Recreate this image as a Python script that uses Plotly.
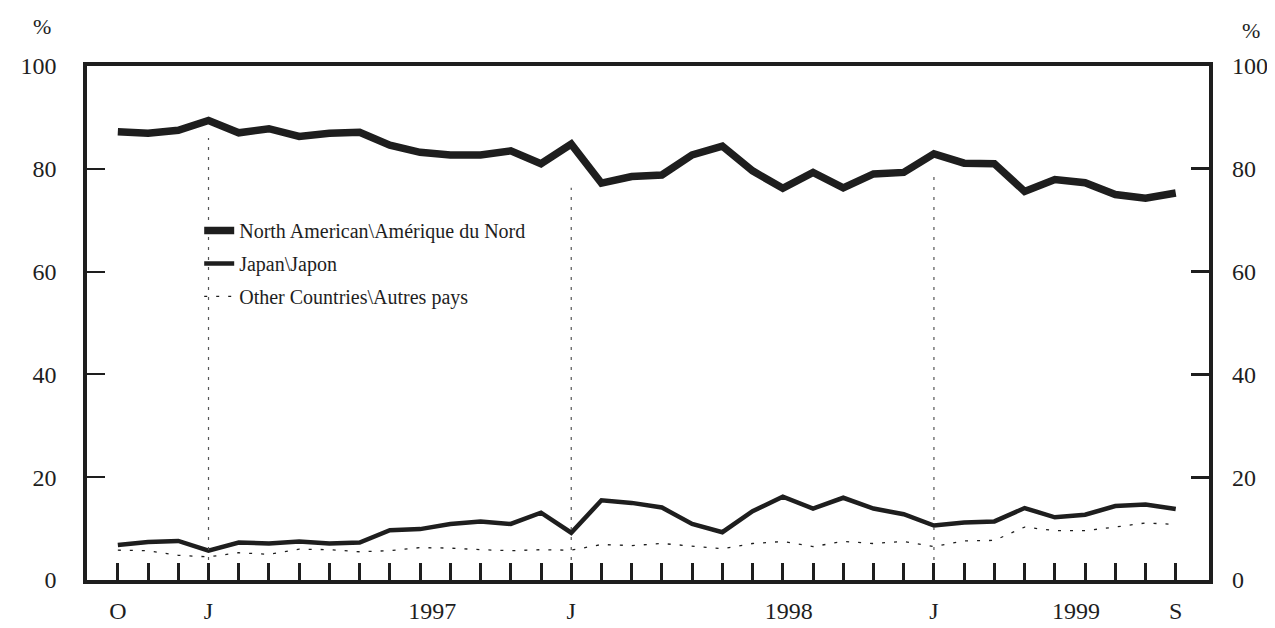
import plotly.graph_objects as go

# Months Oct 1996 .. Sep 1999 (index 0..35)
months = ["Oct 1996", "Nov 1996", "Dec 1996", "Jan 1997", "Feb 1997", "Mar 1997", "Apr 1997",
          "May 1997", "Jun 1997", "Jul 1997", "Aug 1997", "Sep 1997", "Oct 1997", "Nov 1997",
          "Dec 1997", "Jan 1998", "Feb 1998", "Mar 1998", "Apr 1998", "May 1998", "Jun 1998",
          "Jul 1998", "Aug 1998", "Sep 1998", "Oct 1998", "Nov 1998", "Dec 1998", "Jan 1999",
          "Feb 1999", "Mar 1999", "Apr 1999", "May 1999", "Jun 1999", "Jul 1999", "Aug 1999",
          "Sep 1999"]
month_index = list(range(len(months)))

north_america = [87.2, 86.9, 87.5, 89.4, 87.0, 87.8, 86.3, 86.9, 87.1, 84.6, 83.2, 82.7,
                 82.7, 83.5, 81.0, 84.8, 77.2, 78.5, 78.8, 82.7, 84.4, 79.6, 76.2, 79.3,
                 76.3, 79.0, 79.3, 82.9, 81.1, 81.0, 75.6, 77.9, 77.3, 75.0, 74.3, 75.3]
japan = [6.8, 7.4, 7.6, 5.7, 7.3, 7.1, 7.5, 7.1, 7.3, 9.7, 9.9, 10.9,
         11.4, 10.9, 13.1, 9.2, 15.5, 15.0, 14.1, 10.9, 9.3, 13.4, 16.2, 13.9,
         16.0, 13.9, 12.8, 10.6, 11.2, 11.4, 14.0, 12.2, 12.7, 14.4, 14.7, 13.8]
other = [5.8, 5.7, 4.8, 4.5, 5.3, 5.0, 6.0, 5.9, 5.5, 5.7, 6.3, 6.2,
         5.9, 5.7, 5.9, 5.8, 6.9, 6.7, 7.1, 6.6, 6.1, 7.1, 7.5, 6.5,
         7.5, 7.1, 7.5, 6.5, 7.6, 7.7, 10.3, 9.6, 9.6, 10.3, 11.1, 10.8]

series_names = ["North American\\Amérique du Nord", "Japan\\Japon", "Other Countries\\Autres pays"]

# x-axis labels
xtick_vals = [0, 3, 10.4, 15, 22.2, 27, 31.7, 35]
xtick_text = ["O", "J", "1997", "J", "1998", "J", "1999", "S"]
ytick_vals = [0, 20, 40, 60, 80, 100]

# January divider lines (month index, top value)
divider_months = [3, 15, 27]
divider_tops = [86.0, 76.3, 79.7]

INK = "#1e1e1e"
FONT = "Liberation Serif"

fig = go.Figure()

div_x, div_y = [], []
for m, t in zip(divider_months, divider_tops):
    div_x += [m, m, None]
    div_y += [0, t, None]
fig.add_trace(go.Scatter(x=div_x, y=div_y, mode="lines", xaxis="x2", yaxis="y2",
                         line=dict(color="#555555", width=1.2, dash="3px,7px"),
                         showlegend=False, hoverinfo="skip"))

fig.add_trace(go.Scatter(x=month_index, y=north_america, name=series_names[0], mode="lines",
                         line=dict(color=INK, width=7.5), legendgroup="a"))
fig.add_trace(go.Scatter(x=month_index, y=japan, name=series_names[1], mode="lines",
                         line=dict(color=INK, width=4.5), legendgroup="b"))
fig.add_trace(go.Scatter(x=month_index, y=other, name=series_names[2], mode="lines",
                         line=dict(color=INK, width=1.3, dash="3px,9px"), legendgroup="c"))

xr = [-1.02, 36.1]
fig.update_layout(
    width=1275, height=628,
    margin=dict(l=76, r=74, t=58, b=50),
    paper_bgcolor="white", plot_bgcolor="white",
    font=dict(family=FONT, color=INK, size=24),
    xaxis=dict(range=xr, tickvals=month_index, showticklabels=False, ticks="inside",
               ticklen=17, tickwidth=3, tickcolor=INK, showline=True, linewidth=3.5,
               linecolor=INK, mirror=True, showgrid=False, zeroline=False),
    xaxis2=dict(range=xr, overlaying="x", side="bottom", tickvals=xtick_vals,
                ticktext=xtick_text, ticks="", showline=False, showgrid=False,
                zeroline=False, ticklabelstandoff=14, tickfont=dict(size=24)),
    yaxis=dict(range=[0, 100], tickvals=ytick_vals, ticks="inside", ticklen=18,
               tickwidth=1.5, tickcolor=INK, showline=True, linewidth=3.5, linecolor=INK,
               mirror=True, showgrid=False, zeroline=False, ticklabelstandoff=22,
               tickfont=dict(size=24)),
    yaxis2=dict(range=[0, 100], overlaying="y", side="right", tickvals=ytick_vals,
                ticks="inside", ticklen=18, tickwidth=3, tickcolor=INK, showline=False,
                showgrid=False, zeroline=False, ticklabelstandoff=22, tickfont=dict(size=24)),
    legend=dict(x=0.100, y=0.718, xanchor="left", yanchor="top", bgcolor="rgba(0,0,0,0)",
                font=dict(size=20, family=FONT, color=INK), tracegroupgap=4,
                itemwidth=30),
    annotations=[
        dict(text="%", xref="paper", yref="paper", x=-0.04, y=1.077, xanchor="center",
             yanchor="middle", showarrow=False, font=dict(size=22)),
        dict(text="%", xref="paper", yref="paper", x=1.037, y=1.07, xanchor="center",
             yanchor="middle", showarrow=False, font=dict(size=22)),
    ],
)

fig.write_html("out.html")
